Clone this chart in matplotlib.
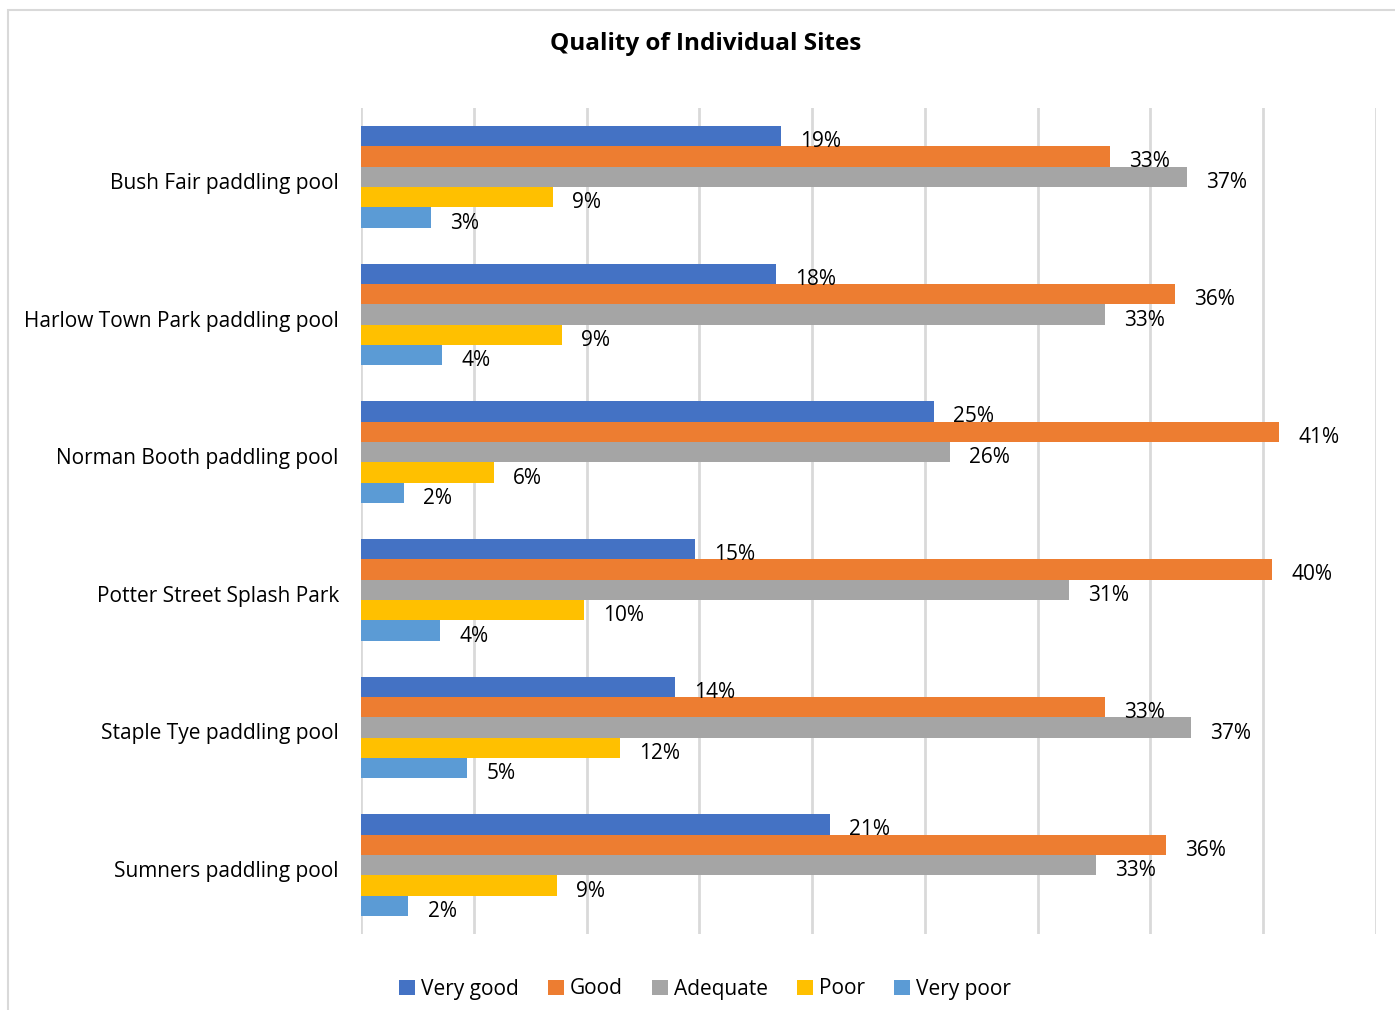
import matplotlib
matplotlib.use("Agg")
import matplotlib.pyplot as plt
from matplotlib.patches import Rectangle
from matplotlib.transforms import ScaledTranslation
import numpy as np

plt.rcParams['font.family'] = ['Open Sans', 'DejaVu Sans']

# sites, top to bottom
sites = ["Bush Fair paddling pool", "Harlow Town Park paddling pool",
         "Norman Booth paddling pool", "Potter Street Splash Park",
         "Staple Tye paddling pool", "Sumners paddling pool"]
ratings = ["Very good", "Good", "Adequate", "Poor", "Very poor"]
colors = ["#4472C4", "#ED7D31", "#A5A5A5", "#FFC000", "#5B9BD5"]

# percentages
very_good = [18.6, 18.4, 25.4, 14.8, 13.9, 20.8]
good      = [33.2, 36.1, 40.7, 40.4, 33.0, 35.7]
adequate  = [36.6, 33.0, 26.1, 31.4, 36.8, 32.6]
poor      = [8.5, 8.9, 5.9, 9.9, 11.5, 8.7]
very_poor = [3.1, 3.6, 1.9, 3.5, 4.7, 2.1]
series = [very_good, good, adequate, poor, very_poor]

fig = plt.figure(figsize=(13.95, 10.1), dpi=100)
ax = fig.add_axes([361/1395, 1 - 934/1010, (1376-361)/1395, (934-108)/1010])

y = np.arange(len(sites))
h = 0.148
for i, (vals, name, c) in enumerate(zip(series, ratings, colors)):
    pos = y - 2*h + i*h
    ax.barh(pos, vals, height=h, color=c, label=name, zorder=2)
    for p, v in zip(pos, vals):
        ax.text(v + 0.85, p + 0.04, "%d%%" % round(v + 1e-9), va="center",
                ha="left", fontsize=15, color="black")

ax.set_xlim(0, 45)
ax.set_ylim(len(sites) - 0.5, -0.5)
ax.set_xticks(np.arange(0, 46, 5))
ax.set_xticklabels([])
ax.tick_params(length=0)
ax.set_yticks(y)
ax.set_yticklabels(sites, fontsize=15)
ax.tick_params(axis="y", pad=16)
# nudge the site names down a little, like the original
shift = ScaledTranslation(0, -4/100, fig.dpi_scale_trans)
for lbl in ax.get_yticklabels():
    lbl.set_transform(lbl.get_transform() + shift)
ax.grid(axis="x", color="#d9d9d9", linewidth=2, zorder=0)
for s in ax.spines.values():
    s.set_visible(False)

fig.text(706/1395, 1 - 44/1010, "Quality of Individual Sites", ha="center",
         va="center", fontsize=17.5, fontweight="bold")

handles, labels = ax.get_legend_handles_labels()
fig.legend(handles, labels, loc="center", bbox_to_anchor=(705/1395, 1 - 989/1010),
           ncol=5, frameon=False, fontsize=15, handlelength=0.75,
           handleheight=0.75, handletextpad=0.3, columnspacing=1.4)

fig.patches.append(Rectangle((8/1395, -0.01), 1.1, 1 - 10/1010 + 0.01,
                             transform=fig.transFigure, fill=False,
                             edgecolor="#d9d9d9", linewidth=1.5))

fig.savefig("out.png", dpi=100)
